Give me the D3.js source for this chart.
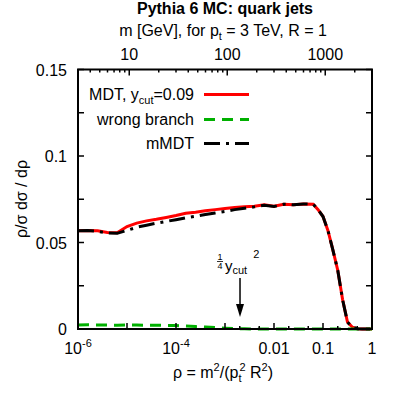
<!DOCTYPE html>
<html><head><meta charset="utf-8">
<script src="https://cdn.jsdelivr.net/npm/d3@7"></script>
<style>body{margin:0;background:#fff}svg{display:block}text{font-family:"Liberation Sans",Arial,sans-serif;fill:#000}</style>
</head><body><svg id="c" width="399" height="399"></svg>
<script>
const rho = [1e-6,1.58e-6,2.51e-6,3.98e-6,6.31e-6,
  1e-5,1.58e-5,2.51e-5,3.98e-5,6.31e-5,
  1e-4,1.58e-4,2.51e-4,3.98e-4,6.31e-4,
  1e-3,1.58e-3,2.51e-3,3.98e-3,6.31e-3,
  1e-2,1.58e-2,2.51e-2,3.98e-2,6.31e-2,
  7.94e-2,0.1,0.126,0.158,0.2,0.251,0.316,0.398,0.501,0.631,1.0];
const mdt = [0.0568,0.0570,0.0568,0.0558,0.0556,
  0.0592,0.0612,0.0625,0.0634,0.0645,
  0.0656,0.0669,0.0675,0.0683,0.0690,
  0.0697,0.0702,0.0706,0.0710,0.0718,
  0.0710,0.0721,0.0718,0.0723,0.0721,
  0.0690,0.0650,0.0570,0.0460,0.0340,0.0170,0.0040,0.0010,0.0002,0,0];
const wrongBranch = [0.0023,0.0024,0.0023,0.0023,0.0022,
  0.0023,0.0023,0.0022,0.0022,0.0021,
  0.0020,0.0017,0.0014,0.0011,0.0009,
  0.0005,0.0002,0.0001,0,0,
  0,0,0,0,0,
  0,0,0,0,0,0,0,0,0,0,0];
const mmdt = [0.0568,0.0570,0.0565,0.0555,0.0553,
  0.0570,0.0588,0.0600,0.0612,0.0622,
  0.0632,0.0643,0.0652,0.0662,0.0671,
  0.0680,0.0690,0.0698,0.0706,0.0715,
  0.0708,0.0721,0.0718,0.0723,0.0721,
  0.0690,0.0650,0.0570,0.0460,0.0340,0.0170,0.0040,0.0010,0.0002,0,0];

const xMajor = [1e-6,1e-5,1e-4,1e-3,1e-2,1e-1,1];
const xMinor = [2e-3,5e-3,2e-2,5e-2,0.2,0.5];
const xLabels = [[1e-6,"10","-6"],[1e-4,"10","-4"],[1e-2,"0.01",""],[1e-1,"0.1",""],[1,"1",""]];
const yTicks = [0,0.025,0.05,0.075,0.1,0.125,0.15];
const yLabels = [0,0.05,0.1,0.15];
const mMajor = [10,100,1000];
const mMinor = [3,4,5,6,7,8,9,20,30,40,50,60,70,80,90,200,300,400,500,600,700,800,900,2000,3000];
const ptGeV = 3000;
const yCut = 0.09;

const FS = 16, SS = 11;
const svg = d3.select("#c");
const L=78,R=372,T=69.5,B=329;
const x = d3.scaleLog().domain([1e-6,1]).range([L,R]);
const y = d3.scaleLinear().domain([0,0.15]).range([B,T]);
const m = d3.scaleLog().domain([ptGeV*Math.sqrt(1e-6),ptGeV]).range([L,R]);

const g = svg.append("g");
const line = vals => d3.line().x((d,i)=>x(rho[i])).y(d=>y(d))(vals);
g.append("path").attr("d",line(mdt)).attr("fill","none").attr("stroke","#ff0000").attr("stroke-width",3);
g.append("path").attr("d",line(wrongBranch)).attr("fill","none").attr("stroke","#00b000").attr("stroke-width",3).attr("stroke-dasharray","11,7");
g.append("path").attr("d",line(mmdt)).attr("fill","none").attr("stroke","#000").attr("stroke-width",3).attr("stroke-dasharray","16,6,3,6");

const tk = (x1,y1,x2,y2)=>g.append("line").attr("x1",x1).attr("y1",y1).attr("x2",x2).attr("y2",y2).attr("stroke","#000").attr("stroke-width",1.5);
xMajor.forEach(v=>tk(x(v),B,x(v),B-6));
xMinor.forEach(v=>tk(x(v),B,x(v),B-3));
yTicks.forEach(v=>{tk(L,y(v),L+6,y(v));tk(R,y(v),R-6,y(v));});
mMajor.forEach(v=>tk(m(v),T,m(v),T+6));
mMinor.forEach(v=>tk(m(v),T,m(v),T+3));
g.append("rect").attr("x",L).attr("y",T).attr("width",R-L).attr("height",B-T).attr("fill","none").attr("stroke","#000").attr("stroke-width",2);

yLabels.forEach(v=>svg.append("text").attr("x",67).attr("y",y(v)+6).attr("text-anchor","end").attr("font-size",FS).text(v));
xLabels.forEach(([v,t,s])=>{
  const tx=svg.append("text").attr("x",x(v)).attr("y",354).attr("text-anchor","middle").attr("font-size",FS);
  tx.append("tspan").text(t);
  if(s) tx.append("tspan").attr("dy",-7).attr("font-size",SS).text(s);
});
mMajor.forEach(v=>svg.append("text").attr("x",m(v)).attr("y",60).attr("text-anchor","middle").attr("font-size",FS).text(v));

svg.append("text").attr("x",(L+R)/2).attr("y",14).attr("text-anchor","middle").attr("font-size",FS).attr("font-weight","bold").text("Pythia 6 MC: quark jets");
const tl = svg.append("text").attr("x",(L+R)/2-2).attr("y",36).attr("text-anchor","middle").attr("font-size",FS);
tl.append("tspan").text("m [GeV], for p");
tl.append("tspan").attr("dy",4).attr("font-size",SS).text("t");
tl.append("tspan").attr("dy",-4).text(" = 3 TeV, R = 1");

const xt = svg.append("text").attr("x",223).attr("y",378).attr("text-anchor","middle").attr("font-size",FS);
xt.append("tspan").text("ρ = m");
xt.append("tspan").attr("dy",-7).attr("font-size",SS).text("2");
xt.append("tspan").attr("dy",7).text("/(p");
xt.append("tspan").attr("dy",4).attr("font-size",SS).text("t");
xt.append("tspan").attr("dy",-11).attr("dx",-2).attr("font-size",SS).text("2");
xt.append("tspan").attr("dy",7).text(" R");
xt.append("tspan").attr("dy",-7).attr("font-size",SS).text("2");
xt.append("tspan").attr("dy",7).text(")");

svg.append("text").attr("transform","translate(27,199) rotate(-90)").attr("text-anchor","middle").attr("font-size",FS).text("ρ/σ dσ / dρ");

const ly=[100,125,149];
const l1 = svg.append("text").attr("x",194).attr("y",ly[0]).attr("text-anchor","end").attr("font-size",FS);
l1.append("tspan").text("MDT, y");
l1.append("tspan").attr("dy",4).attr("font-size",SS).text("cut");
l1.append("tspan").attr("dy",-4).text("=0.09");
svg.append("text").attr("x",194).attr("y",ly[1]).attr("text-anchor","end").attr("font-size",FS).text("wrong branch");
svg.append("text").attr("x",194).attr("y",ly[2]).attr("text-anchor","end").attr("font-size",FS).text("mMDT");
const ll=(yy,c,da)=>svg.append("line").attr("x1",204).attr("x2",249).attr("y1",yy).attr("y2",yy).attr("stroke",c).attr("stroke-width",3).attr("stroke-dasharray",da);
ll(ly[0]-5.5,"#ff0000",null);
ll(ly[1]-5.5,"#00b000","11,7");
ll(ly[2]-5.5,"#000","16,6,3,6");

const ax = x(yCut*yCut/4);
svg.append("text").attr("x",220).attr("y",260).attr("text-anchor","middle").attr("font-size",9).text("1");
svg.append("line").attr("x1",217).attr("x2",223).attr("y1",261.5).attr("y2",261.5).attr("stroke","#000").attr("stroke-width",0.8);
svg.append("text").attr("x",220).attr("y",269).attr("text-anchor","middle").attr("font-size",9).text("4");
const an = svg.append("text").attr("x",225).attr("y",271).attr("font-size",15);
an.append("tspan").text("y");
an.append("tspan").attr("dy",3).attr("font-size",SS).text("cut");
an.append("tspan").attr("dy",-16).attr("dx",6).attr("font-size",SS).text("2");
svg.append("line").attr("x1",ax).attr("x2",ax).attr("y1",278).attr("y2",307).attr("stroke","#000").attr("stroke-width",1.5);
svg.append("path").attr("d",`M${ax-4},304 L${ax+4},304 L${ax},317 Z`).attr("fill","#000");
</script></body></html>
